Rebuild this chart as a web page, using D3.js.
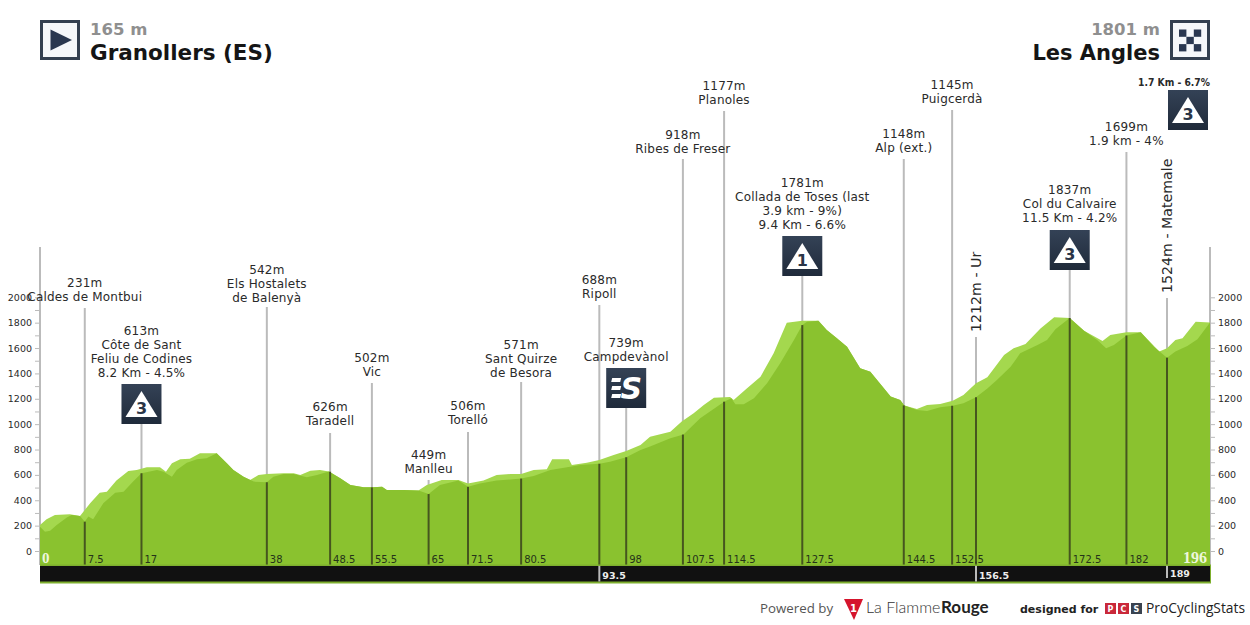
<!DOCTYPE html>
<html><head><meta charset="utf-8">
<script src="https://cdn.jsdelivr.net/npm/d3@7"></script>
<style>html,body{margin:0;padding:0;background:#fff;overflow:hidden}svg{display:block}text{font-family:"DejaVu Sans",sans-serif}</style>
</head><body><svg id="c" width="1250" height="625"></svg>
<script>
// ---- data ----
const frontKm=[0,0.84,1.7,2.8,4.5,5.3,6.7,7.5,8.1,8.9,10.6,12.6,14,15.6,17,19.6,20.7,22.1,22.9,24.6,26.3,27.9,29.6,31.3,32.4,34.1,35.8,38,39.1,40.8,42.5,44.7,46.4,48.4,50.3,52,54.2,55.8,57.3,58.1,60.9,63.4,65.1,67,70.1,71.7,73.7,76.5,80.6,82.7,85.5,88.8,90.5,93.7,95.5,98.2,100.6,102.2,105.6,107.8,110.6,114.6,115.8,116.5,117.9,119.6,121.8,124,126.3,127.7,128.5,130.4,131.8,133.5,135.2,137.4,139.1,142.5,144.1,144.8,146.9,148.6,150.8,152.9,154.7,156.8,158.7,160.3,162.6,164.2,167.1,168.7,170.1,172.5,174.9,177.1,178.6,179.9,182,184.4,186.6,188.8,190.2,192.2,193.9,196];
const frontEle=[192,152,160,205,265,284,276,231,271,250,376,460,468,547,613,639,625,586,639,696,723,731,770,691,639,586,547,542,586,607,607,581,599,626,573,520,502,502,507,481,481,476,449,520,555,506,533,555,571,591,639,665,678,688,704,739,796,823,888,918,1046,1177,1204,1156,1156,1204,1322,1480,1664,1781,1808,1816,1742,1677,1611,1440,1414,1217,1190,1148,1112,1104,1133,1145,1164,1212,1282,1348,1453,1558,1624,1664,1748,1837,1737,1664,1598,1624,1699,1724,1611,1524,1572,1616,1669,1801];
const backKm=[0,1.1,2.5,5,6.7,8.4,10,11.2,12.8,14.8,16.2,17.9,20.1,21.1,22.1,23.5,25.1,26.8,29.6,31.3,32.4,34.1,35.2,36.6,38,40.8,42.5,43.6,45.3,46.9,48.4,50.3,52,54.2,55.8,57.3,58.1,60.9,63.4,64.8,67.3,70.1,71.7,74.3,76.5,78.8,80.6,82.7,84.9,85.8,88.6,89.1,91.6,93.7,96.1,98.2,100.6,102.2,105.6,107.5,109.5,111.2,112.9,115.6,116.2,118.4,120.7,122.9,125.1,127.7,130.4,131.8,133.5,135.2,137.4,139.1,142.5,144.1,144.8,146.9,148.6,150.8,152.9,154.7,156.8,158.7,161.5,163.1,165.1,167.6,169.9,172.5,174.9,178,179.3,182,184.4,187.5,188.8,190.2,191.4,193.6,196];
const backEle=[205,250,284,289,276,376,460,468,555,631,639,660,660,625,691,723,728,770,770,691,639,586,560,599,607,612,612,599,633,639,626,573,520,502,502,507,481,481,476,520,560,560,533,555,599,607,607,639,644,723,723,678,696,717,757,788,836,901,941,1020,1085,1151,1209,1214,1190,1282,1374,1558,1800,1816,1816,1742,1677,1611,1440,1414,1217,1190,1148,1120,1151,1159,1185,1230,1322,1369,1545,1598,1632,1755,1842,1837,1737,1656,1703,1724,1724,1572,1598,1664,1677,1808,1801];
const markerKm=[7.5,17,38,48.6,55.6,65.1,71.7,80.6,93.7,98.2,107.7,114.6,127.7,144.7,152.8,156.8,172.5,182,188.8];
const markerEle=[231,613,542,626,502,449,506,571,688,739,918,1177,1781,1148,1145,1212,1837,1699,1524];
const markerKmLabels=["7.5","17","38","48.5","55.5","65","71.5","80.5","93.5","98","107.5","114.5","127.5","144.5","152.5","156.5","172.5","182","189"];
const markerText=[["231m","Caldes de Montbui"],["613m","Côte de Sant","Feliu de Codines","8.2 Km - 4.5%"],["542m","Els Hostalets","de Balenyà"],["626m","Taradell"],["502m","Vic"],["449m","Manlleu"],["506m","Torelló"],["571m","Sant Quirze","de Besora"],["688m","Ripoll"],["739m","Campdevànol"],["918m","Ribes de Freser"],["1177m","Planoles"],["1781m","Collada de Toses (last","3.9 km - 9%)","9.4 Km - 6.6%"],["1148m","Alp (ext.)"],["1145m","Puigcerdà"],["1212m - Ur"],["1837m","Col du Calvaire","11.5 Km - 4.2%"],["1699m","1.9 km - 4%"],["1524m - Matemale"]];
const markerBadge=["","3","","","","","","","","S","","","1","","","","3","",""];
const barMarkers=["93.5","156.5","189"];
const yTicks=[0,100,200,300,400,500,600,700,800,900,1000,1100,1200,1300,1400,1500,1600,1700,1800,1900,2000];
const startName="Granollers (ES)",startEle="165 m",finishName="Les Angles",finishEle="1801 m",totalKm=196;
const finishClimb="1.7 Km - 6.7%";
// ---- layout (pixels), separate from the data ----
const stemTop=[308,424,307,433,383,480,432,382,305,408,159,111,276,159,110,337,270,152,298];
const textTop=[282,330,269,406,357,454,405,344,279,342,134,85,182,133,84,null,189,126,null];
const svg=d3.select("#c");
const x=d3.scaleLinear().domain([0,totalKm]).range([40,1210]);
const y=d3.scaleLinear().domain([0,2000]).range([551,297.3]);
const baseY=565, axisTopY=247, ink="#2a2a2a";
const defs=svg.append("defs");
const grad=defs.append("linearGradient").attr("id","navy").attr("x1",0).attr("x2",0).attr("y1",0).attr("y2",1);
grad.append("stop").attr("offset",0).attr("stop-color","#344256");
grad.append("stop").attr("offset",1).attr("stop-color","#1f2a3a");

// axes
function axis(gen,px){
  const g=svg.append("g").attr("transform",`translate(${px},0)`)
    .call(gen(y).tickValues(yTicks).tickSize(5).tickPadding(3).tickFormat(d=>d%200===0?d:""));
  g.select(".domain").remove();
  g.selectAll("line").attr("stroke","#bbb");
  g.selectAll("text").style("font-size","9.5px").attr("fill",ink);
  svg.append("line").attr("x1",px).attr("x2",px).attr("y1",axisTopY).attr("y2",baseY).attr("stroke","#bbb").attr("stroke-width",2);
}
axis(d3.axisLeft,40); axis(d3.axisRight,1210);

// grey stems
svg.append("g").selectAll("line").data(markerKm).join("line")
  .attr("x1",d=>x(d)).attr("x2",d=>x(d)).attr("y1",(d,i)=>stemTop[i]).attr("y2",(d,i)=>y(markerEle[i]))
  .attr("stroke","#bbb").attr("stroke-width",2);

// profile
const area=(kms,eles)=>d3.area().x((d,i)=>x(kms[i])).y0(baseY).y1((d,i)=>y(eles[i]))(kms);
svg.append("path").attr("d",area(backKm,backEle)).attr("fill","#a4d84e");
svg.append("path").attr("d",area(frontKm,frontEle)).attr("fill","#8ac22f");

// dark stems
svg.append("g").selectAll("line").data(markerKm).join("line")
  .attr("x1",d=>x(d)).attr("x2",d=>x(d)).attr("y1",(d,i)=>y(markerEle[i])).attr("y2",baseY)
  .attr("stroke","#46561f").attr("stroke-width",2);

// bottom bar
svg.append("rect").attr("x",40).attr("y",564.5).attr("width",1171).attr("height",19).attr("fill","#7eaf2e");
svg.append("rect").attr("x",40).attr("y",566).attr("width",1170).attr("height",15.5).attr("fill","#111");
barMarkers.forEach(lab=>{
  const i=markerKmLabels.indexOf(lab), bx=x(markerKm[i]), short=lab==="189";
  svg.append("line").attr("x1",bx).attr("x2",bx).attr("y1",566).attr("y2",short?578:581.5).attr("stroke","#bbb").attr("stroke-width",2);
  svg.append("text").attr("x",bx+3).attr("y",short?577:579).text(lab).attr("fill","#eee").style("font-size","9.5px").style("font-weight","600");
});
// km labels
svg.append("g").selectAll("text").data(markerKmLabels.map((l,i)=>({l,i})).filter(d=>!barMarkers.includes(d.l))).join("text")
  .attr("x",d=>x(markerKm[d.i])+3).attr("y",563).text(d=>d.l).attr("fill","#25331a").style("font-size","10px");
svg.append("text").attr("x",42).attr("y",563).text("0").attr("fill","#eef7dc").style("font-family","'Liberation Serif',serif").style("font-weight","bold").style("font-size","15px");
svg.append("text").attr("x",1207).attr("y",563).attr("text-anchor","end").text(totalKm).attr("fill","#eef7dc").style("font-family","'Liberation Serif',serif").style("font-weight","bold").style("font-size","16px");

// marker texts
const LH=14.1;
markerText.forEach((lines,i)=>{
  const mx=x(markerKm[i]);
  if(textTop[i]===null){
    svg.append("text").attr("transform",`translate(${mx+5},${stemTop[i]-5}) rotate(-90)`).text(lines[0]).attr("fill",ink).style("font-size","14.2px");
  } else {
    lines.forEach((t,j)=>svg.append("text").attr("x",mx).attr("y",textTop[i]+j*LH+4.5).attr("text-anchor","middle").text(t).attr("fill",ink).style("font-size","12px").style("letter-spacing","0.2px"));
  }
});

// badges
function badge(cx,top,kind){
  const g=svg.append("g").attr("transform",`translate(${cx-20},${top})`);
  g.append("rect").attr("width",40).attr("height",40).attr("fill","url(#navy)");
  if(kind==="S"){
    [10,18,26].forEach(b=>g.append("path").attr("d",d3.line()([[6,b],[15,b],[14,b+4],[5,b+4]])+"Z").attr("fill","#fff"));
    g.append("text").attr("x",25).attr("y",31).attr("text-anchor","middle").text("S").attr("fill","#fff").style("font-size","30px").style("font-weight","bold").style("font-style","italic");
  } else {
    g.append("path").attr("d",d3.line()([[20,7],[36,33],[4,33]])+"Z").attr("fill","#fff");
    g.append("text").attr("x",20).attr("y",30).attr("text-anchor","middle").text(kind).attr("fill","#2a3547").style("font-size","16px").style("font-weight","bold");
  }
}
markerBadge.forEach((k,i)=>{ if(k) badge(x(markerKm[i]),stemTop[i]-40,k); });
badge(1188,90,"3");
svg.append("text").attr("x",1210).attr("y",86).attr("text-anchor","end").text(finishClimb).attr("fill",ink).style("font-size","11px").style("font-weight","bold").attr("textLength",72).attr("lengthAdjust","spacingAndGlyphs");

// header
function frame(px){ svg.append("rect").attr("x",px+1.5).attr("y",21.5).attr("width",37).attr("height",37).attr("fill","#f5f7fa").attr("stroke","#333f50").attr("stroke-width",3); }
frame(40);
svg.append("path").attr("d",d3.line()([[50.5,29.5],[72,40],[50.5,50.5]])+"Z").attr("fill","#2a3750");
frame(1170);
[[0,0],[2,0],[1,1],[0,2],[2,2]].forEach(([c,r])=>svg.append("rect").attr("x",1179+c*7.4).attr("y",29.5+r*7.3).attr("width",7.4).attr("height",7.3).attr("fill","#2a3750"));
const hd=(t,px,py,anc,fs,col)=>svg.append("text").attr("x",px).attr("y",py).attr("text-anchor",anc).text(t).attr("fill",col).style("font-size",fs+"px").style("font-weight","bold");
hd(startEle,90,35,"start",16.5,"#8f8f8f");
hd(startName,90,60,"start",21.5,"#151515");
hd(finishEle,1160,35,"end",16.5,"#8f8f8f");
hd(finishName,1160,60,"end",21,"#151515");

// footer
const ft=(t,px,fam,fs,col,w)=>svg.append("text").attr("x",px).attr("y",613).text(t).attr("fill",col).style("font-family",fam).style("font-size",fs+"px").style("font-weight",w||"normal");
ft("Powered by",760,"'Open Sans',sans-serif",13.3,"#555");
svg.append("path").attr("d",d3.line()([[844,599],[863,599],[854,620]])+"Z").attr("fill","#d5142c");
svg.append("text").attr("x",853.5).attr("y",612).attr("text-anchor","middle").text("1").attr("fill","#fff").style("font-size","10px").style("font-weight","bold");
ft("La Flamme",866,"Lato,sans-serif",16,"#333",300);
ft("Rouge",941,"Lato,sans-serif",17,"#222","bold");
ft("designed for",1020,"'DejaVu Sans',sans-serif",11,"#222","bold");
[[1105,"P","#c9283a"],[1118,"C","#c9283a"],[1131,"S","#3a4350"]].forEach(([bx,t,c])=>{
  svg.append("rect").attr("x",bx).attr("y",603).attr("width",11).attr("height",11).attr("fill",c);
  svg.append("text").attr("x",bx+5.5).attr("y",612).attr("text-anchor","middle").text(t).attr("fill","#fff").style("font-size","8px").style("font-weight","bold");
});
ft("ProCyclingStats",1146,"'Open Sans',sans-serif",13.8,"#222");
</script></body></html>
